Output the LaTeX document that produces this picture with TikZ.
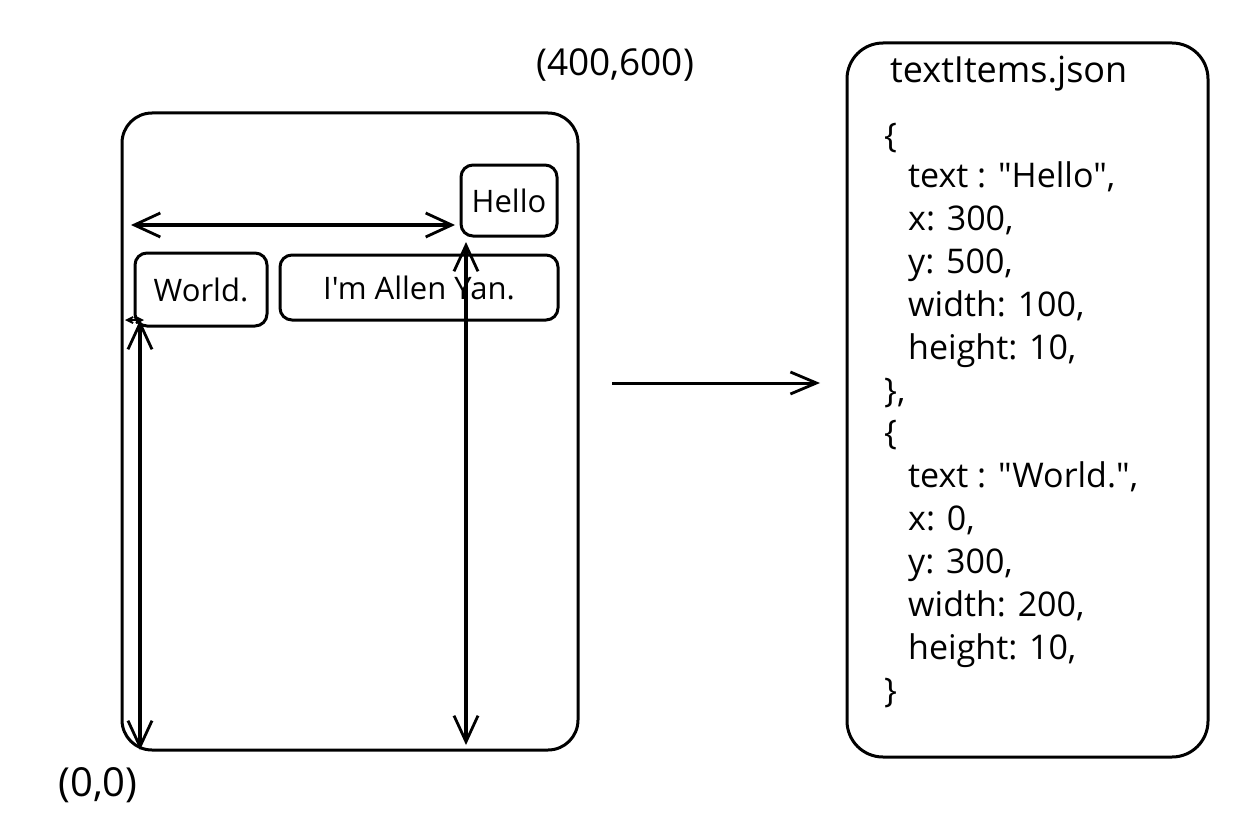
\documentclass[tikz,border=0pt]{standalone}
\usepackage{fontspec}
\newfontfamily\hand{Open Sans}
\usetikzlibrary{arrows.meta}
\tikzset{
  box/.style={draw, line width=3pt, rounded corners=12pt, inner sep=0pt, font=\hand\fontsize{31}{36}\selectfont},
  bigbox/.style={draw, line width=3pt, inner sep=0pt},
  lbl/.style={inner sep=0pt, font=\hand\fontsize{37}{40}\selectfont},
  js/.style={inner sep=0pt, anchor=west, text height=0.72em, text depth=0.22em, font=\hand\fontsize{34}{38}\selectfont},
  arr/.style={line width=3pt, -{Straight Barb[length=26pt,width=22pt,line width=2.8pt]}},
  darr/.style={line width=3.2pt, {Straight Barb[length=26pt,width=24pt,line width=2.8pt]}-{Straight Barb[length=26pt,width=24pt,line width=2.8pt]}},
  tinyarr/.style={line width=2pt, {Straight Barb[length=6pt,width=6pt]}-{Straight Barb[length=6pt,width=6pt]}}
}
\begin{document}
\begin{tikzpicture}[x=1pt,y=-1pt]
\useasboundingbox (0,0) rectangle (1234,840);
% main frame
\node[bigbox, rounded corners=30pt, minimum width=456pt, minimum height=637pt] (frame) at (350,431.5) {};
\node[lbl] (tr) at (615,65) {(400,600)};
\node[lbl, font=\hand\fontsize{40}{44}\selectfont] (bl) at (98,785) {(0,0)};
% text boxes
\node[box, minimum width=96pt, minimum height=71pt] (hello) at (509,200.5) {Hello};
\node[box, minimum width=132pt, minimum height=73pt] (world) at (201,289.5) {World.};
\node[box, minimum width=278pt, minimum height=65pt] (allen) at (419,287.5) {I'm Allen Yan.};
% dimension arrows
\coordinate (h1) at (131,225);
\coordinate (h2) at (455,225);
\draw[darr] (h1) -- (h2);
\coordinate (v1) at (140,320);
\coordinate (v2) at (140,750);
\draw[darr] (v1) -- (v2);
\coordinate (m1) at (466,242);
\coordinate (m2) at (466,745);
\draw[darr] (m1) -- (m2);
\coordinate (t1) at (125,320);
\coordinate (t2) at (144,320);
\draw[tinyarr] (t1) -- (t2);
% json box
\node[bigbox, rounded corners=36pt, minimum width=361pt, minimum height=714pt] (json) at (1027.5,400) {};
\coordinate (a1) at (612,383);
\coordinate (a2) at (820,383);
\draw[arr] (a1) -- (a2);
% json text
\node[js, font=\hand\fontsize{36}{40}\selectfont] (title) at (890,80) {textItems.json};
\node[js] (o1) at (884,145) {\{};
\node[js] (l1) at (908,185) {text : "Hello",};
\node[js] (l2) at (908,228) {x: 300,};
\node[js] (l3) at (908,271) {y: 500,};
\node[js] (l4) at (908,314) {width: 100,};
\node[js] (l5) at (908,357) {height: 10,};
\node[js] (c1) at (884,400) {\},};
\node[js] (o2) at (884,442) {\{};
\node[js] (k1) at (908,485) {text : "World.",};
\node[js] (k2) at (908,528) {x: 0,};
\node[js] (k3) at (908,571) {y: 300,};
\node[js] (k4) at (908,614) {width: 200,};
\node[js] (k5) at (908,657) {height: 10,};
\node[js] (c2) at (884,700) {\}};
\end{tikzpicture}
\end{document}
